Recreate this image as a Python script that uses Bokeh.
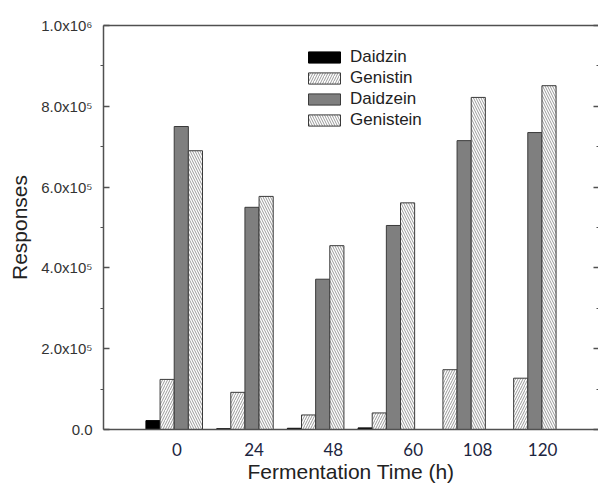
import numpy as np
from bokeh.plotting import figure
from bokeh.models import (Range1d, FixedTicker, LinearAxis, Legend, LegendItem,
                          ColumnDataSource, CustomJSTickFormatter)
from bokeh.transform import dodge
from bokeh.embed import file_html
from bokeh.resources import INLINE

# ---- data ----
categories = ["0", "24", "48", "60", "108", "120"]
daidzin = [22000, 2000, 3000, 4000, 0, 0]
genistin = [124000, 92000, 36000, 41000, 148000, 127000]
daidzein = [750000, 550000, 372000, 505000, 715000, 735000]
genistein = [690000, 577000, 455000, 561000, 822000, 851000]
y_tick_values = [0, 200000, 400000, 600000, 800000, 1000000]
y_tick_labels = ["0.0", "2.0x10\u2075", "4.0x10\u2075", "6.0x10\u2075", "8.0x10\u2075", "1.0x10\u2076"]

group_index = np.arange(1, len(categories) + 1)
label_shift = [0.04, 0.13, 0.25, 0.38, 0.29, 0.21]  # hand-placed labels in original

src = ColumnDataSource(dict(x=group_index, daidzin=daidzin, genistin=genistin,
                            daidzein=daidzein, genistein=genistein))

p = figure(width=598, height=489, output_backend="svg", toolbar_location=None,
           x_range=Range1d(0, 7), y_range=Range1d(0, 1000000))
p.min_border_left = 103
p.min_border_right = 0
p.min_border_top = 25
p.min_border_bottom = 60
p.grid.visible = False
p.outline_line_color = None
p.background_fill_color = "white"
p.border_fill_color = "white"

w = 0.2
edge = "#3a3a3a"
r1 = p.vbar(x=dodge("x", -0.3), top="daidzin", width=w, source=src,
            fill_color="black", line_color="black", line_width=1)
r2 = p.vbar(x=dodge("x", -0.1), top="genistin", width=w, source=src,
            fill_color="white", line_color=edge, line_width=1,
            hatch_pattern="/", hatch_color="#999999", hatch_scale=5, hatch_weight=1)
r3 = p.vbar(x=dodge("x", 0.1), top="daidzein", width=w, source=src,
            fill_color="#7f7f7f", line_color=edge, line_width=1)
r4 = p.vbar(x=dodge("x", 0.3), top="genistein", width=w, source=src,
            fill_color="white", line_color=edge, line_width=1,
            hatch_pattern="\\", hatch_color="#999999", hatch_scale=5, hatch_weight=1)

axis_col = "#505050"
# y axis
ya = p.yaxis[0]
ya.ticker = FixedTicker(ticks=y_tick_values,
                        minor_ticks=[v + 100000 for v in y_tick_values[:-1]])
ya.major_label_overrides = {v: s for v, s in zip(y_tick_values, y_tick_labels)}
ya.axis_line_color = axis_col
ya.axis_line_width = 1.5
ya.major_tick_line_color = axis_col
ya.major_tick_line_width = 1.5
ya.major_tick_in = 6
ya.major_tick_out = 0
ya.minor_tick_line_color = axis_col
ya.minor_tick_in = 0
ya.minor_tick_out = 3
ya.major_label_text_font = "Liberation Sans"
ya.major_label_text_font_size = "15px"
ya.major_label_text_color = "#333333"
ya.major_label_standoff = 8
ya.axis_label = "Responses"
ya.axis_label_text_font = "Liberation Sans"
ya.axis_label_text_font_size = "21px"
ya.axis_label_text_font_style = "normal"
ya.axis_label_text_color = "#222222"
ya.axis_label_standoff = 7

# x axis
xa = p.xaxis[0]
tick_pos = [float(round(g + s, 2)) for g, s in zip(group_index, label_shift)]
xa.ticker = FixedTicker(ticks=tick_pos, minor_ticks=[])
xa.major_label_overrides = {t: c for t, c in zip(tick_pos, categories)}
xa.axis_line_color = axis_col
xa.axis_line_width = 1.5
xa.major_tick_line_color = None
xa.minor_tick_line_color = None
xa.major_label_text_font = "Lato"
xa.major_label_text_font_size = "17px"
xa.major_label_text_color = "#1c2540"
xa.major_label_standoff = 7
xa.axis_label = "Fermentation Time (h)"
xa.axis_label_text_font = "Liberation Sans"
xa.axis_label_text_font_size = "21px"
xa.axis_label_text_font_style = "normal"
xa.axis_label_text_color = "#222222"
xa.axis_label_standoff = 1

# top line
top = LinearAxis(ticker=FixedTicker(ticks=[]),
                 major_tick_line_color=None, minor_tick_line_color=None,
                 axis_line_color=axis_col, axis_line_width=1.5,
                 major_label_standoff=0, major_tick_out=0, minor_tick_out=0)
p.add_layout(top, "above")
# right ticks (spine lies just outside the picture)
right = LinearAxis(ticker=FixedTicker(ticks=y_tick_values,
                                      minor_ticks=[v + 100000 for v in y_tick_values[:-1]]),
                   formatter=CustomJSTickFormatter(code="return ''"),
                   axis_line_color=None,
                   major_tick_line_color=axis_col, major_tick_line_width=1.5,
                   major_tick_in=5, major_tick_out=0,
                   minor_tick_line_color=axis_col, minor_tick_in=2, minor_tick_out=0,
                   major_label_standoff=0)
p.add_layout(right, "right")

legend = Legend(items=[LegendItem(label="Daidzin", renderers=[r1]),
                       LegendItem(label="Genistin", renderers=[r2]),
                       LegendItem(label="Daidzein", renderers=[r3]),
                       LegendItem(label="Genistein", renderers=[r4])],
                location=(201, 299), padding=0, margin=0, spacing=1,
                glyph_width=40, glyph_height=14, label_height=20,
                label_standoff=6, label_text_font="Liberation Sans",
                label_text_font_size="17px", label_text_color="#222222",
                border_line_color=None, background_fill_alpha=0)
p.add_layout(legend)

open("out.html", "w").write(file_html(p, INLINE))
